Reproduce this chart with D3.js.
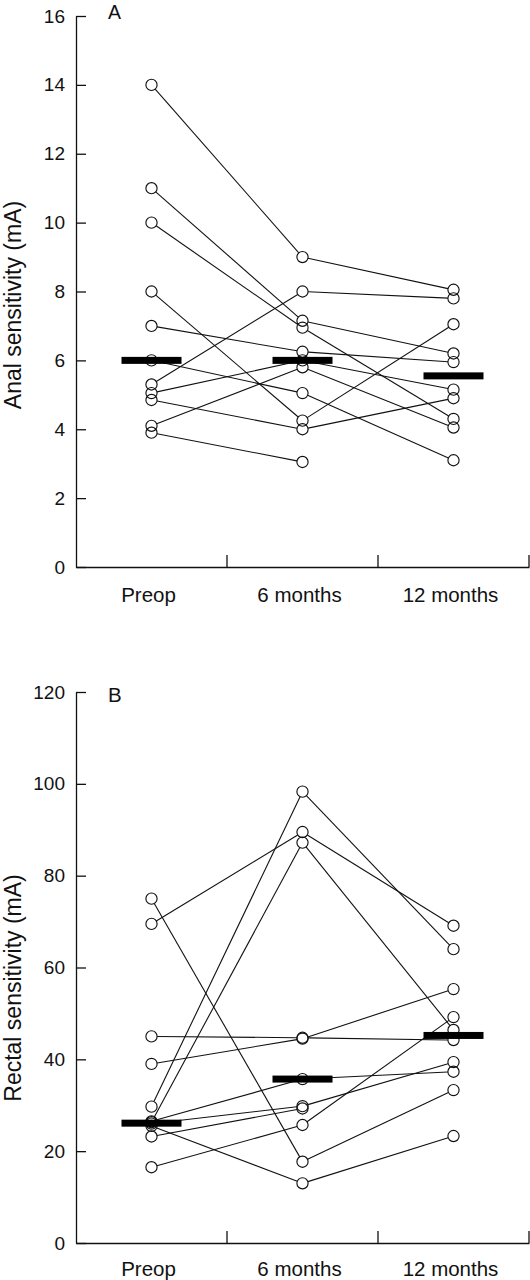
<!DOCTYPE html>
<html><head><meta charset="utf-8">
<script src="https://cdn.jsdelivr.net/npm/d3@7"></script>
<style>
body{margin:0;background:#fff}
svg{display:block}
</style>
</head><body>
<svg id="c" width="530" height="1280"></svg>
<script>
// ---- data ----
const categories = ["Preop", "6 months", "12 months"];

// Panel A: anal sensitivity (mA), one entry per patient
const analPreop = [14, 11, 10, 8, 7, 6, 5.3, 5.05, 4.85, 4.1, 3.9];
const anal6m    = [9, 7.15, 6.95, 4.25, 6.25, 5.05, 8, 6.0, 4.0, 5.8, 3.05];
const anal12m   = [8.05, 6.2, 4.3, 7.05, 5.95, 3.1, 7.8, 5.15, 4.9, 4.05, null];
const analMedians = [6, 6, 5.55];
const analTicks = [0, 2, 4, 6, 8, 10, 12, 14, 16];

// Panel B: rectal sensitivity (mA), one entry per patient
const rectalPreop = [75, 69.5, 45, 39, 29.7, 26.3, 26.5, 26, 25.5, 23.2, 16.5];
const rectal6m    = [17.7, 89.5, 44.7, 44.5, 98.3, 87.2, 35.7, 29.8, 13.0, 29.3, 25.7];
const rectal12m   = [33.3, 69.1, 44.2, 55.3, 64, 46.4, 37.3, 39.4, 23.3, null, 49.2];
const rectalMedians = [26.1, 35.7, 45.2];
const rectalTicks = [0, 20, 40, 60, 80, 100, 120];

// ---- drawing ----
const FONT = '"Liberation Sans", Arial, Helvetica, sans-serif';
const INK = "#111";
const svg = d3.select("#c");
const x = d3.scaleBand().domain(categories).range([76, 529]);
const cx = c => x(c) + x.bandwidth() / 2;
const R = 5.6;

function panel(o) {
  const y = d3.scaleLinear().domain([0, d3.max(o.ticks)]).range([o.bottom, o.top]);
  const g = svg.append("g");

  // y axis (inward ticks)
  g.append("g")
    .attr("transform", "translate(76,0)")
    .call(d3.axisLeft(y).tickValues(o.ticks).tickSizeInner(-10).tickSizeOuter(0).tickPadding(11))
    .call(a => {
      a.attr("font-family", FONT);
      a.select(".domain").attr("stroke", INK).attr("stroke-width", 1.3);
      a.selectAll(".tick line").attr("stroke", INK).attr("stroke-width", 1.3);
      a.selectAll(".tick text").attr("font-size", 19).attr("fill", INK);
    });

  // x axis: labels at band centres, ticks at band boundaries
  g.append("g")
    .attr("transform", `translate(0,${o.bottom})`)
    .call(d3.axisBottom(x).tickSize(0).tickSizeOuter(0).tickPadding(o.labelPad))
    .call(a => {
      a.attr("font-family", FONT);
      a.select(".domain").attr("stroke", INK).attr("stroke-width", 1.3);
      a.selectAll(".tick text").attr("font-size", 20.5).attr("fill", INK).attr("dx", -3);
      a.selectAll(".bound").data(categories).join("line")
        .attr("class", "bound")
        .attr("x1", c => x(c) + x.bandwidth()).attr("x2", c => x(c) + x.bandwidth())
        .attr("y1", 0).attr("y2", -12)
        .attr("stroke", INK).attr("stroke-width", 1.3);
    });

  // patient lines (trimmed to circle edges)
  const stages = [o.pre, o.m6, o.m12];
  const segs = [];
  o.pre.forEach((_, i) => {
    for (let s = 0; s < 2; s++) {
      const a = stages[s][i], b = stages[s + 1][i];
      if (a == null || b == null) continue;
      const x1 = cx(categories[s]), y1 = y(a), x2 = cx(categories[s + 1]), y2 = y(b);
      const L = Math.hypot(x2 - x1, y2 - y1);
      const ux = (x2 - x1) / L, uy = (y2 - y1) / L;
      segs.push([x1 + ux * R, y1 + uy * R, x2 - ux * R, y2 - uy * R]);
    }
  });
  g.selectAll(".seg").data(segs).join("line")
    .attr("x1", d => d[0]).attr("y1", d => d[1]).attr("x2", d => d[2]).attr("y2", d => d[3])
    .attr("stroke", INK).attr("stroke-width", 1.1);

  // circles
  const pts = [];
  stages.forEach((arr, s) => arr.forEach(v => { if (v != null) pts.push([categories[s], v]); }));
  g.selectAll(".pt").data(pts).join("circle")
    .attr("cx", d => cx(d[0])).attr("cy", d => y(d[1])).attr("r", R)
    .attr("fill", "none").attr("stroke", INK).attr("stroke-width", 1.15);

  // medians
  g.selectAll(".med").data(o.med).join("rect")
    .attr("x", (d, i) => cx(categories[i]) - 30).attr("y", d => y(d) - 3.5)
    .attr("width", 60).attr("height", 7).attr("fill", "#000");

  // panel letter
  g.append("text").attr("x", 108).attr("y", o.letterY)
    .attr("font-family", FONT).attr("font-size", o.letterSize).attr("fill", INK).text(o.letter);

  // y title
  g.append("text")
    .attr("transform", `translate(21,${o.titleY}) rotate(-90)`)
    .attr("text-anchor", "middle")
    .attr("font-family", FONT).attr("font-size", 23).attr("fill", INK)
    .text(o.title);
}

panel({
  pre: analPreop, m6: anal6m, m12: anal12m, med: analMedians, ticks: analTicks,
  top: 16, bottom: 567, labelPad: 20.5, letter: "A", letterY: 19, letterSize: 19.5,
  title: "Anal sensitivity (mA)", titleY: 305
});
panel({
  pre: rectalPreop, m6: rectal6m, m12: rectal12m, med: rectalMedians, ticks: rectalTicks,
  top: 692, bottom: 1243, labelPad: 18.5, letter: "B", letterY: 702, letterSize: 20.5,
  title: "Rectal sensitivity (mA)", titleY: 988
});
</script>
</body></html>
